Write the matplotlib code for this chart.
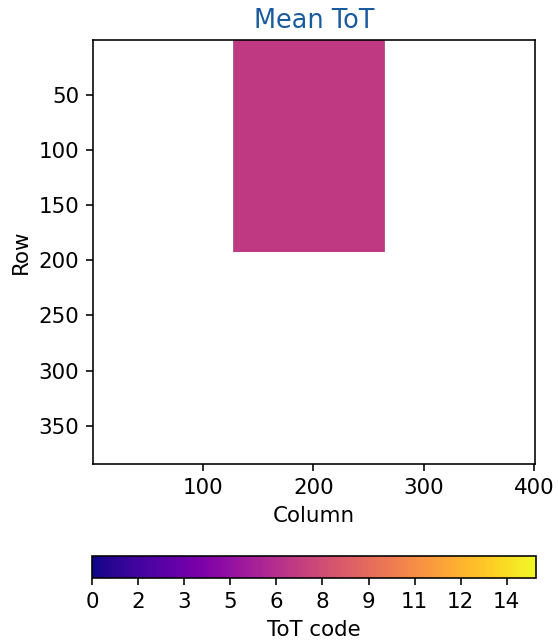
import numpy as np
import matplotlib
matplotlib.use("Agg")
import matplotlib.pyplot as plt

# Sensor geometry and data
n_rows = 384
n_cols = 400
active_col_start = 128   # first column with hits
active_col_end = 264     # last column with hits
active_row_start = 1
active_row_end = 192
mean_tot_value = 6.6     # mean ToT code in active region
tot_min = 0.0
tot_max = 14.45
cbar_ticks = [0, 1.5, 3, 4.5, 6, 7.5, 9, 10.5, 12, 13.5]
cbar_ticklabels = ["0", "2", "3", "5", "6", "8", "9", "11", "12", "14"]

data = np.full((n_rows, n_cols), np.nan)
data[active_row_start - 1:active_row_end, active_col_start - 1:active_col_end] = mean_tot_value

DPI = 144
W, H = 558, 640
fs = 10.7
fig = plt.figure(figsize=(W / DPI, H / DPI), dpi=DPI)
ax = fig.add_axes([92 / W, 1 - 464 / H, 444 / W, 424 / H])
im = ax.imshow(data, cmap="plasma", vmin=tot_min, vmax=tot_max,
               extent=[0.5, n_cols + 0.5, n_rows + 0.5, 0.5],
               interpolation="antialiased", aspect="equal")
ax.set_xlim(0.5, n_cols + 0.5)
ax.set_ylim(n_rows + 0.5, 0.5)
ax.set_xticks([100, 200, 300, 400])
ax.set_yticks([50, 100, 150, 200, 250, 300, 350])
ax.tick_params(labelsize=fs)
ax.set_xlabel("Column", fontsize=fs)
ax.set_ylabel("Row", fontsize=fs)
ax.set_title("Mean ToT", color="#1a5a9e", fontsize=12.8)

cax = fig.add_axes([92 / W, 1 - 578 / H, 444 / W, 22 / H])
cb = fig.colorbar(im, cax=cax, orientation="horizontal")
cb.set_ticks(cbar_ticks)
cb.set_ticklabels(cbar_ticklabels)
cb.ax.tick_params(labelsize=fs)
cb.set_label("ToT code", fontsize=fs)

fig.savefig("out.png", dpi=DPI)
